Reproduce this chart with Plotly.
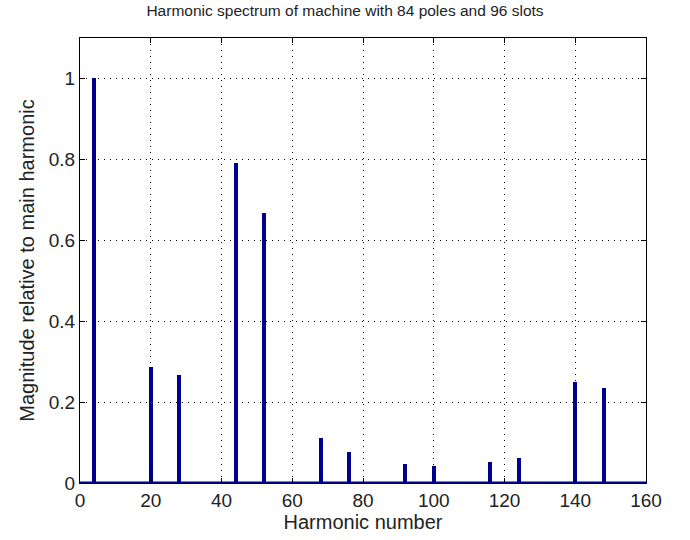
import plotly.graph_objects as go

harmonics = [4, 20, 28, 44, 52, 68, 76, 92, 100, 116, 124, 140, 148]
magnitudes = [1.0, 0.286, 0.268, 0.79, 0.668, 0.111, 0.077, 0.046, 0.042, 0.052, 0.062, 0.25, 0.236]
x_ticks = [0, 20, 40, 60, 80, 100, 120, 140, 160]
y_ticks = [0, 0.2, 0.4, 0.6, 0.8, 1]

BLUE = "#00008F"
FONT = "Liberation Sans, Arial, sans-serif"
TXT = "#222222"

fig = go.Figure()
fig.add_trace(go.Bar(x=harmonics, y=magnitudes, width=1.15,
                     marker=dict(color=BLUE, line=dict(width=0))))
fig.add_shape(type="line", xref="x", yref="y", x0=x_ticks[0], x1=x_ticks[-1], y0=0, y1=0,
              line=dict(color=BLUE, width=3))

axis_common = dict(showline=True, linecolor="black", linewidth=1, mirror="ticks",
                   ticks="inside", ticklen=5, tickcolor="black",
                   showgrid=True, gridcolor="black", griddash="1px,5px", gridwidth=1,
                   zeroline=False, tickfont=dict(family=FONT, size=19, color=TXT),
                   title_font=dict(family=FONT, size=20, color=TXT))

fig.update_layout(
    width=690, height=540,
    margin=dict(l=80, r=44, t=38, b=57),
    paper_bgcolor="white", plot_bgcolor="white",
    showlegend=False,
    title=dict(text="Harmonic spectrum of machine with 84 poles and 96 slots",
               x=0.5, xanchor="center", y=1 - 5/540, yanchor="top",
               font=dict(family=FONT, size=15.5, color=TXT)),
    xaxis=dict(range=[0, 160], tickvals=x_ticks, title=dict(text="Harmonic number", standoff=0),
               **axis_common),
    yaxis=dict(range=[0, 1.1], tickvals=y_ticks, ticktext=[str(v) for v in y_ticks],
               title=dict(text="Magnitude relative to main harmonic", standoff=8),
               **axis_common),
    bargap=0,
)

fig.write_html("out.html")
